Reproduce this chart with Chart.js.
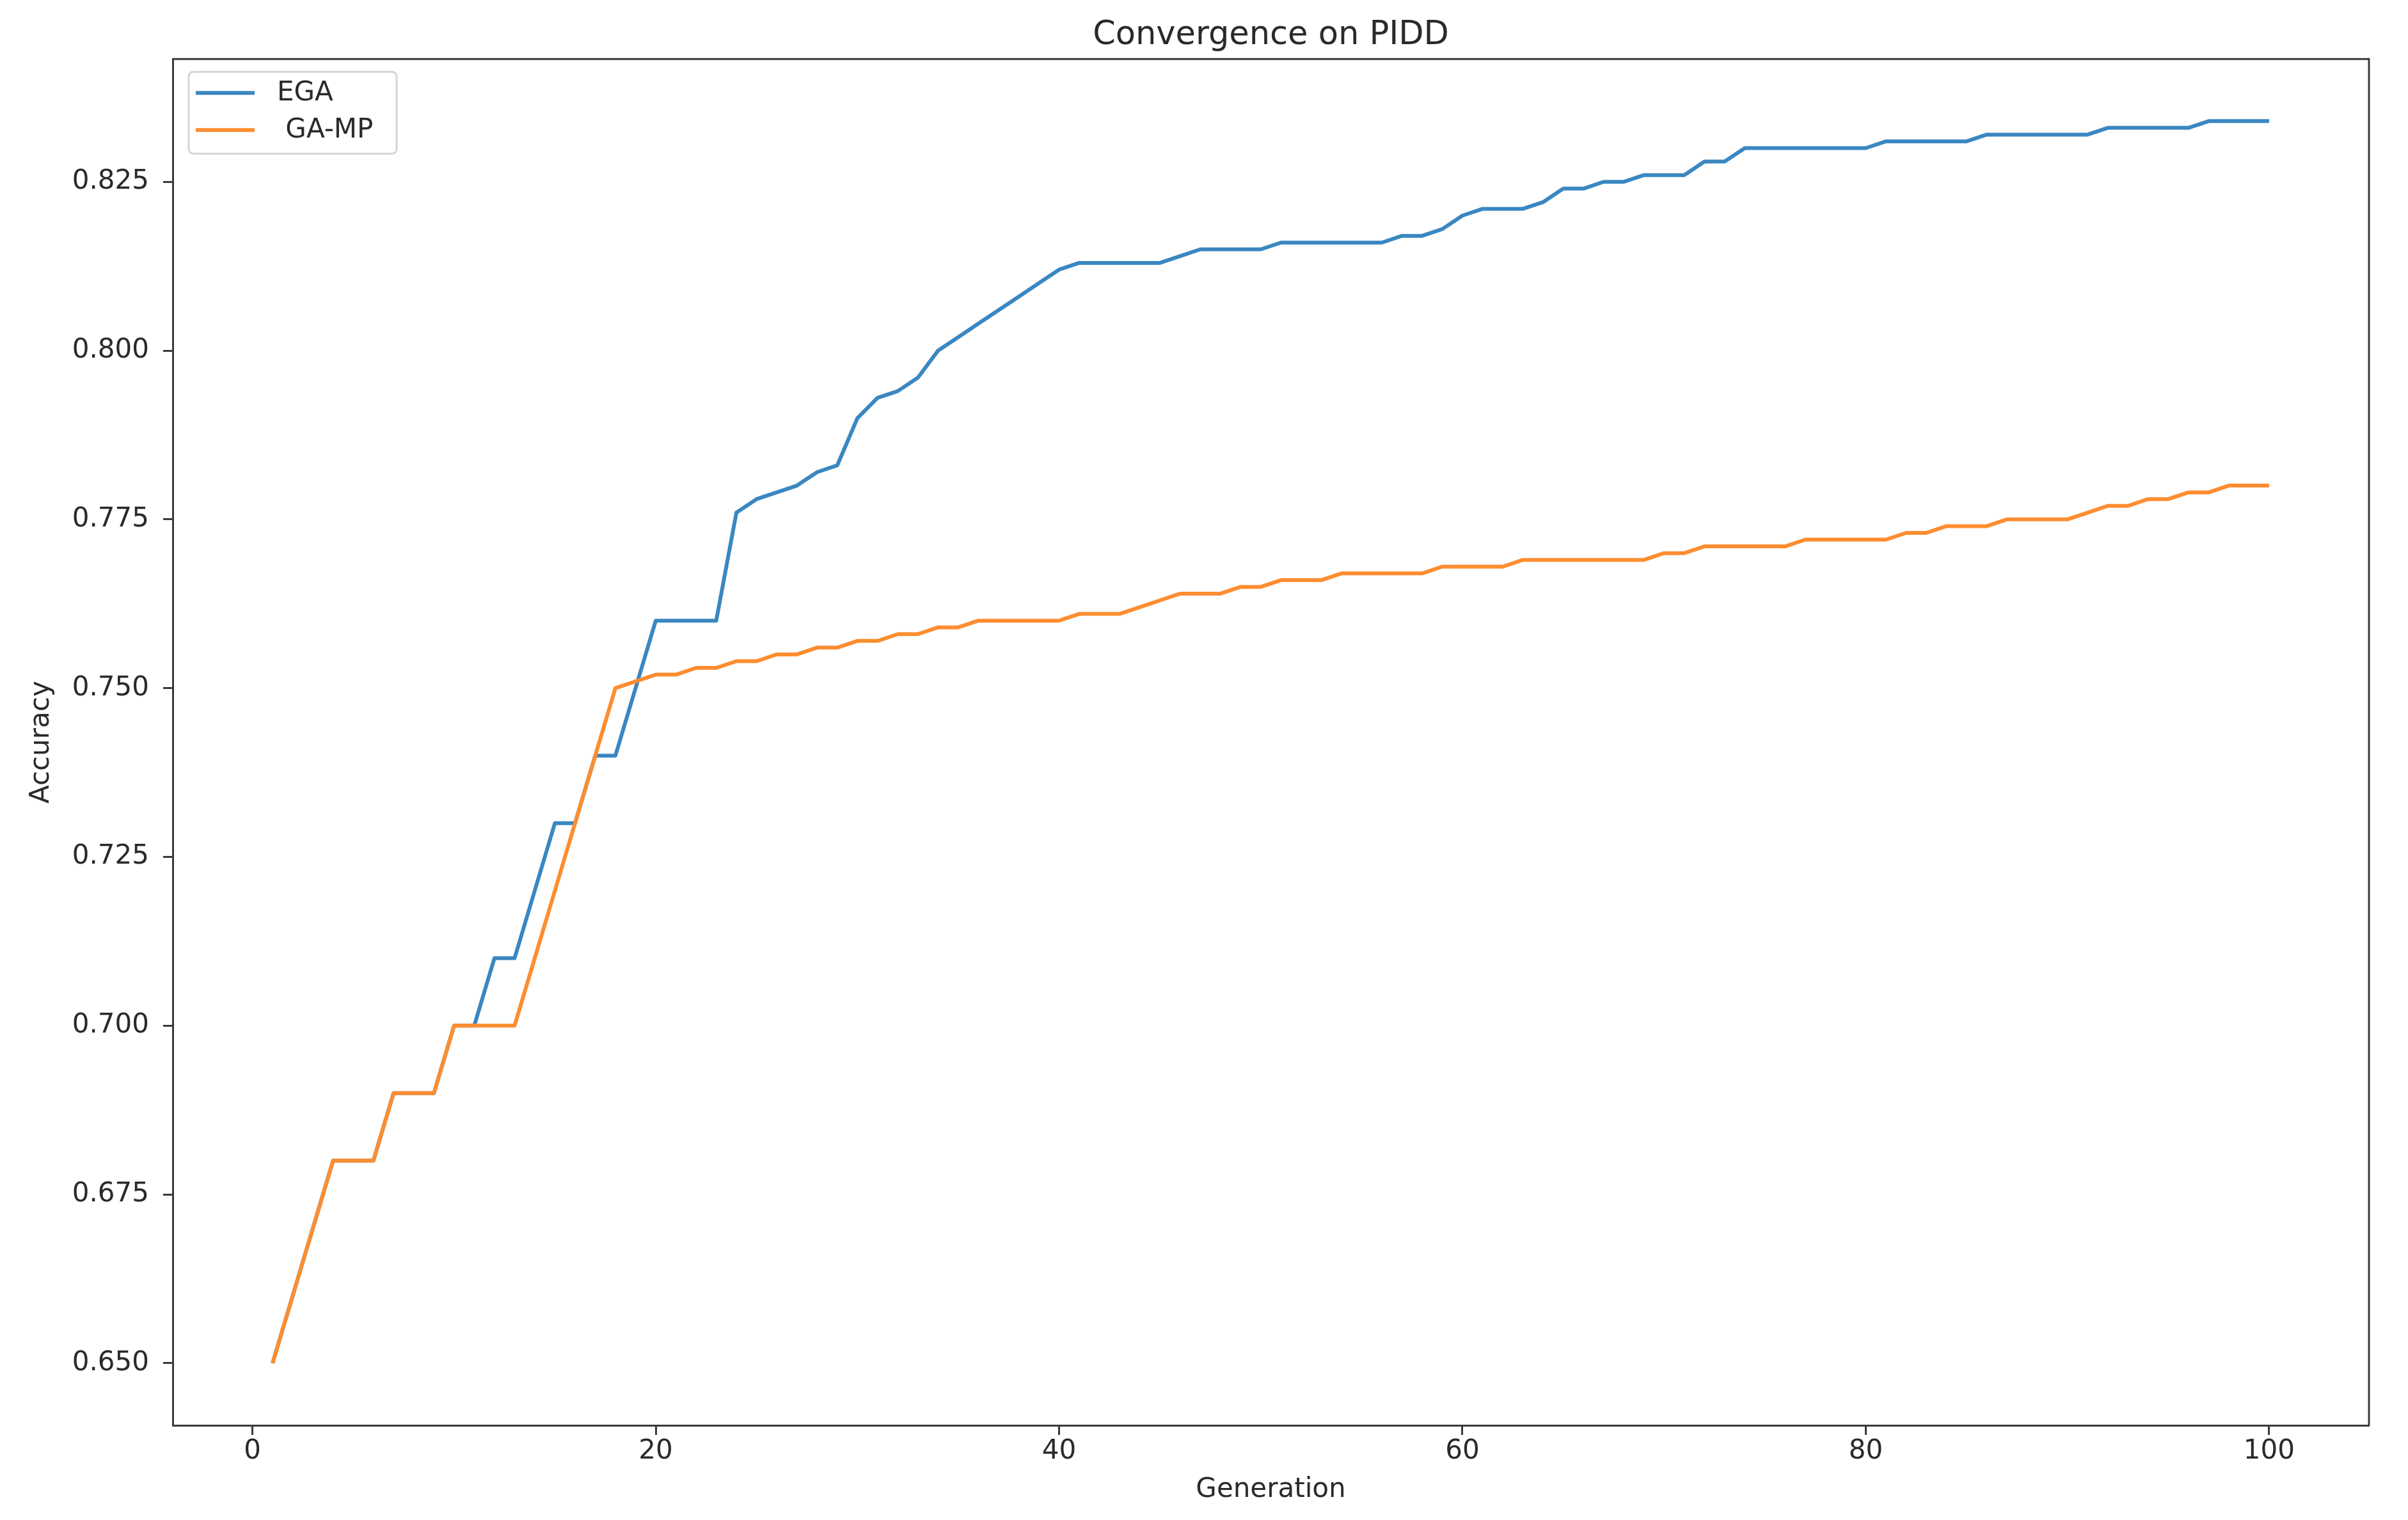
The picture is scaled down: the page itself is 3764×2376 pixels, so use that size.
<!DOCTYPE html>
<html>
<head>
<meta charset="utf-8">
<script src="https://cdn.jsdelivr.net/npm/chart.js@4.4.1/dist/chart.umd.min.js"></script>
<style>
html, body { margin: 0; padding: 0; background: #ffffff; }
#wrap { width: 3764px; height: 2376px; position: relative; background: #ffffff; }
canvas { display: block; }
</style>
</head>
<body>
<div id="wrap"><canvas id="c" width="3764" height="2376"></canvas></div>
<script>
const chartTitle = "Convergence on PIDD";
const xAxisTitle = "Generation";
const yAxisTitle = "Accuracy";
const seriesNames = ["EGA", " GA-MP"];

const generations = [
  1, 2, 3, 4, 5, 6, 7, 8, 9, 10,
  11, 12, 13, 14, 15, 16, 17, 18, 19, 20,
  21, 22, 23, 24, 25, 26, 27, 28, 29, 30,
  31, 32, 33, 34, 35, 36, 37, 38, 39, 40,
  41, 42, 43, 44, 45, 46, 47, 48, 49, 50,
  51, 52, 53, 54, 55, 56, 57, 58, 59, 60,
  61, 62, 63, 64, 65, 66, 67, 68, 69, 70,
  71, 72, 73, 74, 75, 76, 77, 78, 79, 80,
  81, 82, 83, 84, 85, 86, 87, 88, 89, 90,
  91, 92, 93, 94, 95, 96, 97, 98, 99, 100
];

const egaAccuracy = [
  0.650, 0.660, 0.670, 0.680, 0.680, 0.680, 0.690, 0.690, 0.690, 0.700,
  0.700, 0.710, 0.710, 0.720, 0.730, 0.730, 0.740, 0.740, 0.750, 0.760,
  0.760, 0.760, 0.760, 0.776, 0.778, 0.779, 0.780, 0.782, 0.783, 0.790,
  0.793, 0.794, 0.796, 0.800, 0.802, 0.804, 0.806, 0.808, 0.810, 0.812,
  0.813, 0.813, 0.813, 0.813, 0.813, 0.814, 0.815, 0.815, 0.815, 0.815,
  0.816, 0.816, 0.816, 0.816, 0.816, 0.816, 0.817, 0.817, 0.818, 0.820,
  0.821, 0.821, 0.821, 0.822, 0.824, 0.824, 0.825, 0.825, 0.826, 0.826,
  0.826, 0.828, 0.828, 0.830, 0.830, 0.830, 0.830, 0.830, 0.830, 0.830,
  0.831, 0.831, 0.831, 0.831, 0.831, 0.832, 0.832, 0.832, 0.832, 0.832,
  0.832, 0.833, 0.833, 0.833, 0.833, 0.833, 0.834, 0.834, 0.834, 0.834
];

const gampAccuracy = [
  0.650, 0.660, 0.670, 0.680, 0.680, 0.680, 0.690, 0.690, 0.690, 0.700,
  0.700, 0.700, 0.700, 0.710, 0.720, 0.730, 0.740, 0.750, 0.751, 0.752,
  0.752, 0.753, 0.753, 0.754, 0.754, 0.755, 0.755, 0.756, 0.756, 0.757,
  0.757, 0.758, 0.758, 0.759, 0.759, 0.760, 0.760, 0.760, 0.760, 0.760,
  0.761, 0.761, 0.761, 0.762, 0.763, 0.764, 0.764, 0.764, 0.765, 0.765,
  0.766, 0.766, 0.766, 0.767, 0.767, 0.767, 0.767, 0.767, 0.768, 0.768,
  0.768, 0.768, 0.769, 0.769, 0.769, 0.769, 0.769, 0.769, 0.769, 0.770,
  0.770, 0.771, 0.771, 0.771, 0.771, 0.771, 0.772, 0.772, 0.772, 0.772,
  0.772, 0.773, 0.773, 0.774, 0.774, 0.774, 0.775, 0.775, 0.775, 0.775,
  0.776, 0.777, 0.777, 0.778, 0.778, 0.779, 0.779, 0.780, 0.780, 0.780
];

const xTickValues = [0, 20, 40, 60, 80, 100];
const yTickValues = [0.650, 0.675, 0.700, 0.725, 0.750, 0.775, 0.800, 0.825];

const FONT = "'DejaVu Sans', 'Liberation Sans', sans-serif";
const TEXT = '#2a2a2a';
const SPINE = '#3a3a3a';
const seriesColors = ['#3a87c1', '#fd8d30'];

function toPoints(xs, ys) {
  return xs.map((x, i) => ({ x: x, y: ys[i] }));
}

// Frame (top/right spines) and in-axes legend, matplotlib style
const framePlugin = {
  id: 'frameAndLegend',
  afterDatasetsDraw(chart) {
    const ctx = chart.ctx;
    const a = chart.chartArea;
    ctx.save();
    ctx.strokeStyle = SPINE;
    ctx.lineWidth = 3;
    ctx.beginPath();
    ctx.moveTo(a.left, a.top);
    ctx.lineTo(a.right, a.top);
    ctx.lineTo(a.right, a.bottom);
    ctx.stroke();

    // legend box
    const bx = a.left + 25, by = a.top + 20, bw = 325, bh = 128, r = 8;
    ctx.beginPath();
    ctx.moveTo(bx + r, by);
    ctx.lineTo(bx + bw - r, by);
    ctx.quadraticCurveTo(bx + bw, by, bx + bw, by + r);
    ctx.lineTo(bx + bw, by + bh - r);
    ctx.quadraticCurveTo(bx + bw, by + bh, bx + bw - r, by + bh);
    ctx.lineTo(bx + r, by + bh);
    ctx.quadraticCurveTo(bx, by + bh, bx, by + bh - r);
    ctx.lineTo(bx, by + r);
    ctx.quadraticCurveTo(bx, by, bx + r, by);
    ctx.closePath();
    ctx.fillStyle = 'rgba(255,255,255,0.85)';
    ctx.fill();
    ctx.strokeStyle = '#d6d6d6';
    ctx.lineWidth = 3;
    ctx.stroke();

    const rows = [a.top + 53, a.top + 111];
    chart.data.datasets.forEach((ds, i) => {
      const y = rows[i];
      ctx.strokeStyle = ds.borderColor;
      ctx.lineWidth = 6;
      ctx.lineCap = 'butt';
      ctx.beginPath();
      ctx.moveTo(a.left + 36, y);
      ctx.lineTo(a.left + 128, y);
      ctx.stroke();
      ctx.fillStyle = TEXT;
      ctx.font = '42px ' + FONT;
      ctx.textAlign = 'left';
      ctx.textBaseline = 'middle';
      ctx.fillText(ds.label, a.left + 163, y + 1);
    });
    ctx.restore();
  }
};

const ctx = document.getElementById('c').getContext('2d');
new Chart(ctx, {
  type: 'line',
  data: {
    datasets: [
      {
        label: seriesNames[0],
        data: toPoints(generations, egaAccuracy),
        borderColor: seriesColors[0],
        backgroundColor: seriesColors[0],
        borderWidth: 6,
        pointRadius: 0,
        tension: 0,
        fill: false,
        borderJoinStyle: 'round',
        order: 1
      },
      {
        label: seriesNames[1],
        data: toPoints(generations, gampAccuracy),
        borderColor: seriesColors[1],
        backgroundColor: seriesColors[1],
        borderWidth: 6,
        pointRadius: 0,
        tension: 0,
        fill: false,
        borderJoinStyle: 'round',
        order: 0
      }
    ]
  },
  options: {
    responsive: false,
    maintainAspectRatio: false,
    devicePixelRatio: 1,
    animation: false,
    layout: { padding: { left: 0, right: 61, top: 0, bottom: 0 } },
    plugins: {
      legend: { display: false },
      tooltip: { enabled: false },
      title: {
        display: true,
        text: chartTitle,
        fullSize: false,
        color: TEXT,
        font: { family: FONT, size: 51, weight: 'normal', lineHeight: 1.2 },
        padding: { top: 25, bottom: 6 }
      }
    },
    scales: {
      x: {
        type: 'linear',
        position: 'bottom',
        min: -3.95,
        max: 104.95,
        afterBuildTicks: (scale) => { scale.ticks = xTickValues.map(v => ({ value: v })); },
        afterFit: (scale) => { scale.height = 148; },
        grid: {
          display: true,
          drawOnChartArea: false,
          drawTicks: true,
          tickLength: 15,
          tickWidth: 3,
          tickColor: SPINE
        },
        border: { display: true, color: SPINE, width: 3 },
        ticks: {
          color: TEXT,
          padding: 1,
          maxRotation: 0,
          autoSkip: false,
          font: { family: FONT, size: 42 },
          callback: (v) => String(v)
        },
        title: {
          display: true,
          text: xAxisTitle,
          color: TEXT,
          font: { family: FONT, size: 42, lineHeight: 1.2 },
          padding: { top: 0, bottom: 22 }
        }
      },
      y: {
        type: 'linear',
        position: 'left',
        min: 0.6408,
        max: 0.8432,
        afterBuildTicks: (scale) => { scale.ticks = yTickValues.map(v => ({ value: v })); },
        afterFit: (scale) => { scale.width = 270; },
        grid: {
          display: true,
          drawOnChartArea: false,
          drawTicks: true,
          tickLength: 15,
          tickWidth: 3,
          tickColor: SPINE
        },
        border: { display: true, color: SPINE, width: 3 },
        ticks: {
          color: TEXT,
          padding: 22,
          autoSkip: false,
          font: { family: FONT, size: 42 },
          callback: (v) => Number(v).toFixed(3)
        },
        title: {
          display: true,
          text: yAxisTitle,
          color: TEXT,
          font: { family: FONT, size: 42, lineHeight: 1.2 },
          padding: { top: 40, bottom: 0 }
        }
      }
    }
  },
  plugins: [framePlugin]
});
</script>
</body>
</html>
